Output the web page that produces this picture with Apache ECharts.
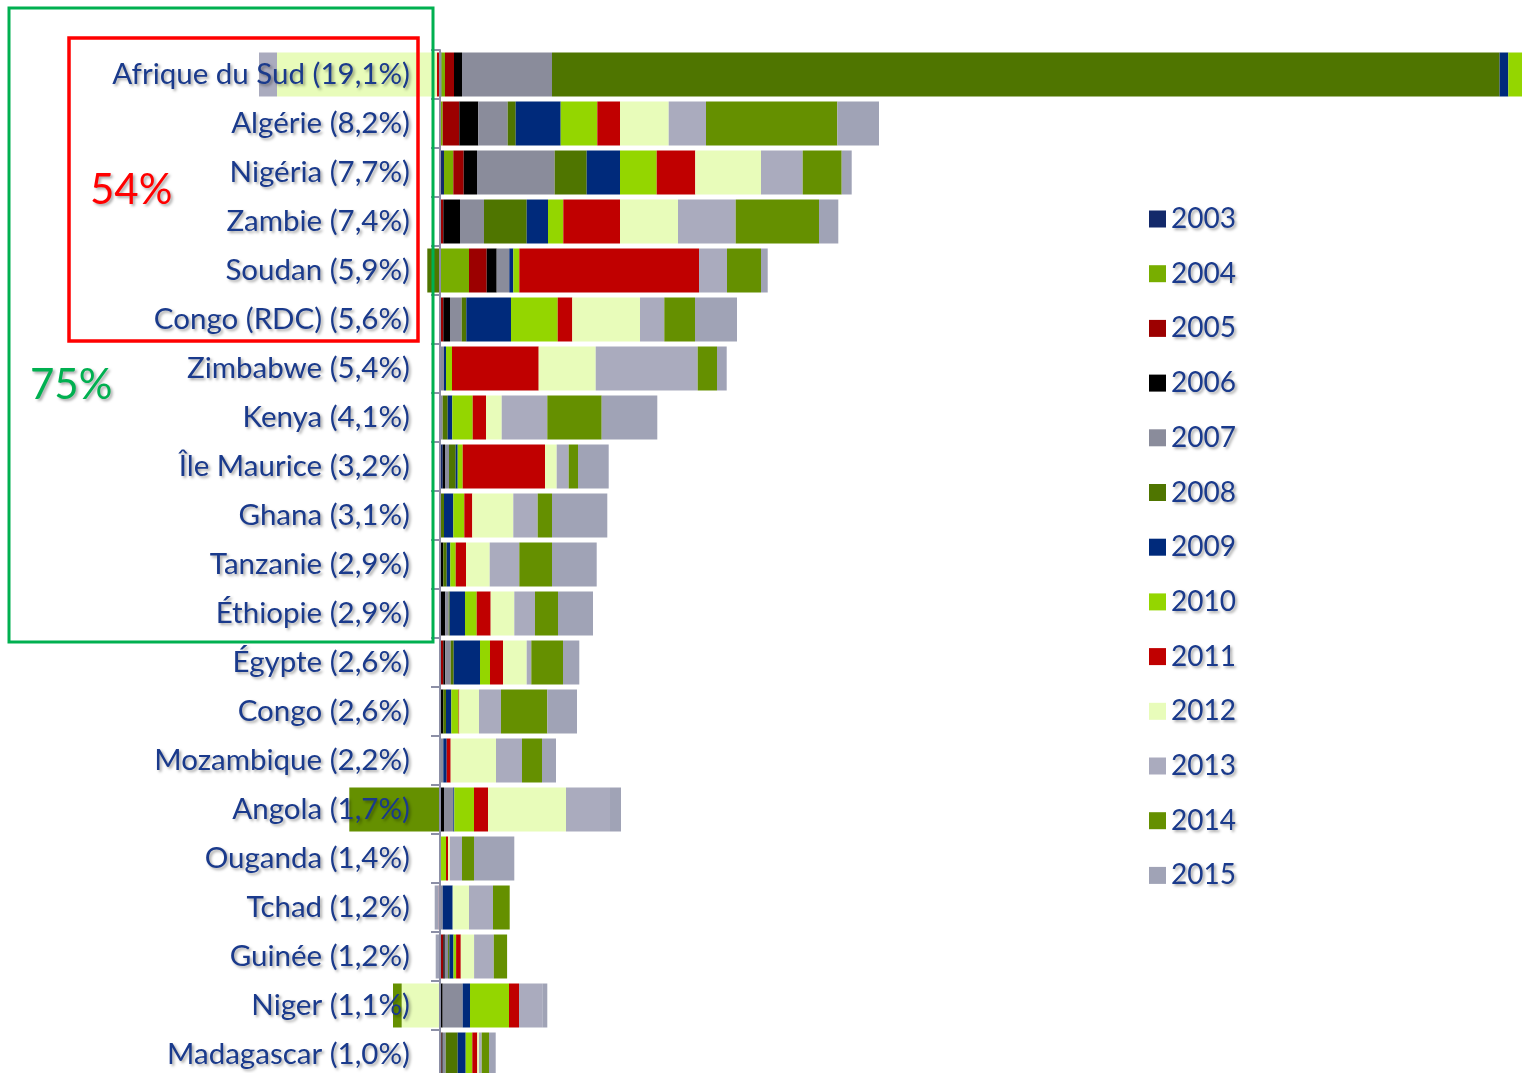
<!DOCTYPE html>
<html lang="fr">
<head>
<meta charset="UTF-8">
<title>Afrique</title>
<script src="https://cdn.jsdelivr.net/npm/echarts@6/dist/echarts.min.js"></script>
<style>
  html, body { margin: 0; padding: 0; background: #fff; }
  #main { width: 1522px; height: 1073px; }
</style>
</head>
<body>
<div id="main"></div>
<script>
// pays (du haut vers le bas)
var countries = ['Afrique du Sud (19,1%)', 'Algérie (8,2%)', 'Nigéria (7,7%)', 'Zambie (7,4%)',
    'Soudan (5,9%)', 'Congo (RDC) (5,6%)', 'Zimbabwe (5,4%)', 'Kenya (4,1%)', 'Île Maurice (3,2%)',
    'Ghana (3,1%)', 'Tanzanie (2,9%)', 'Éthiopie (2,9%)', 'Égypte (2,6%)', 'Congo (2,6%)',
    'Mozambique (2,2%)', 'Angola (1,7%)', 'Ouganda (1,4%)', 'Tchad (1,2%)', 'Guinée (1,2%)',
    'Niger (1,1%)', 'Madagascar (1,0%)'];

var years = ['2003', '2004', '2005', '2006', '2007', '2008', '2009', '2010', '2011', '2012', '2013', '2014', '2015'];

// valeurs par année, même ordre que countries
var y2003 = [1.5, 1, 4, 0.5, 0, 0.5, 0, 0, 2.7, 0, 0, 0, 0, 0, 0, 0, 0, 0, 0, 0, 0];
var y2004 = [3.5, 1.7, 9.3, 0.5, 29, 0.5, 0, 0, 0, 0, 0, 0, 0, 0, 0, 0, 0, 0, 0, 0, 0];
var y2005 = [9, 16.6, 10.4, 2.3, 17.7, 2.3, 0, 0, 0, 0, 0, 0, 3.3, 0, 0, 0, 0, 0, 3.3, 0, 1.5];
var y2006 = [8, 19, 13.3, 16.7, 10, 6.7, 0, 0, 2.3, 0, 3.3, 5.3, 2, 3.3, 0, 4, 0, 0, 1.5, 2.7, 1.2];
var y2007 = [90, 29.4, 77.7, 24, 12.6, 11.7, 4, 2.7, 4, 0, 0, 3.4, 5.4, 0, 3.3, 9.3, 0, 2.7, 3.3, 20, 3];
var y2008 = [947.6, 8, 32, 42.7, -12.7, 4.6, 0, 5, 6.7, 4, 3.4, 1, 3, 2.7, 0, 0, 0, 0, 1.4, 0, 12];
var y2009 = [8.7, 45, 33.3, 21.3, 4, 44.7, 2, 4.6, 2, 9.3, 3.6, 15.3, 26.3, 5.3, 3.4, 1, 0, 10, 4, 7.3, 8];
var y2010 = [14, 36.6, 36.7, 15.3, 6, 46.7, 6, 20.4, 5, 11, 5.4, 11.7, 10, 7.3, 0, 19.7, 6, 0, 2.6, 39, 6.6];
var y2011 = [-3, 22.7, 38.6, 56.7, 179.7, 14.6, 86.7, 13.3, 82.3, 8, 10.3, 14, 13, 0.7, 4, 14, 2, -1.3, 4.7, 10, 5];
var y2012 = [-160, 48.7, 65.7, 58, 0, 67.7, 57, 15.7, 11.7, 41, 23.7, 23.6, 23.7, 19.7, 45.3, 78, 2, 16.3, 13.3, -38.3, 1.7];
var y2013 = [-18, 37.3, 41.7, 57.7, 28, 24.3, 102, 45.6, 12, 24.4, 29.6, 20.7, 4.6, 22, 26, 44, 12, 24, 19.7, 23.3, 2.7];
var y2014 = [0, 131.3, 39, 83.3, 34, 30.7, 19.3, 54.4, 9.3, 14.3, 32.7, 23, 31.7, 46.3, 20, -90.7, 12, 16.7, 13.3, -8.7, 7.3];
var y2015 = [0, 41.7, 10, 19.3, 6.7, 42, 9.7, 55.6, 30.7, 55.3, 44.7, 35, 16.3, 29.7, 14, 11, 40.3, -4, -4.3, 5, 6.7];

var yearData = [y2003, y2004, y2005, y2006, y2007, y2008, y2009, y2010, y2011, y2012, y2013, y2014, y2015];
var colors = ['#13296A', '#78AE00', '#9C0000', '#000000', '#8A8C9B', '#4F7500', '#002A7B',
    '#94D600', '#C00000', '#E8FCBA', '#AAABBE', '#659000', '#A0A3B6'];

var navy = '#1A3A8C';
var shadow = {
    textShadowColor: 'rgba(0,0,0,0.35)',
    textShadowBlur: 3,
    textShadowOffsetX: 2,
    textShadowOffsetY: 2
};

var series = years.map(function (y, i) {
    return {
        name: y,
        type: 'bar',
        stack: 'total',
        barWidth: 44,
        data: yearData[i],
        itemStyle: { color: colors[i] }
    };
});

var myChart = echarts.init(document.getElementById('main'));

option = {
    animation: false,
    color: colors,
    grid: { left: 0, right: 0, top: 50, height: 1029, outerBoundsMode: 'none' },
    xAxis: {
        type: 'value',
        min: -440,
        max: 1082,
        show: false
    },
    yAxis: {
        type: 'category',
        inverse: true,
        data: countries,
        position: 'left',
        offset: -440,   // axe placé sur le zéro
        z: 10,
        axisLine: { onZero: false, lineStyle: { color: '#8C8FA6', width: 2 } },
        axisTick: { show: true, length: 9, lineStyle: { color: '#8C8FA6', width: 2 } },
        axisLabel: Object.assign({
            margin: 30,
            color: navy,
            fontFamily: 'Lato',
            fontSize: 29.5
        }, shadow)
    },
    legend: {
        data: years,
        orient: 'vertical',
        left: 1144,
        top: 200,
        icon: 'rect',
        itemWidth: 17,
        itemHeight: 17,
        itemGap: 26.7,
        textStyle: Object.assign({
            color: navy,
            fontFamily: 'Lato',
            fontSize: 28,
            lineHeight: 28
        }, shadow)
    },
    graphic: [
        {
            type: 'rect', z: 100,
            shape: { x: 9, y: 8, width: 424, height: 634 },
            style: { fill: 'none', stroke: '#00B050', lineWidth: 3 }
        },
        {
            type: 'rect', z: 100,
            shape: { x: 69, y: 38, width: 349, height: 303 },
            style: { fill: 'none', stroke: '#FF0000', lineWidth: 3.5 }
        },
        {
            type: 'text', z: 100, x: 90, y: 190,
            style: Object.assign({
                text: '54%', fill: '#FF0000', fontFamily: 'Lato', fontSize: 42,
                verticalAlign: 'middle'
            }, shadow)
        },
        {
            type: 'text', z: 100, x: 30, y: 385,
            style: Object.assign({
                text: '75%', fill: '#00B050', fontFamily: 'Lato', fontSize: 42,
                verticalAlign: 'middle'
            }, shadow)
        }
    ],
    series: series
};

myChart.setOption(option);
</script>
</body>
</html>
